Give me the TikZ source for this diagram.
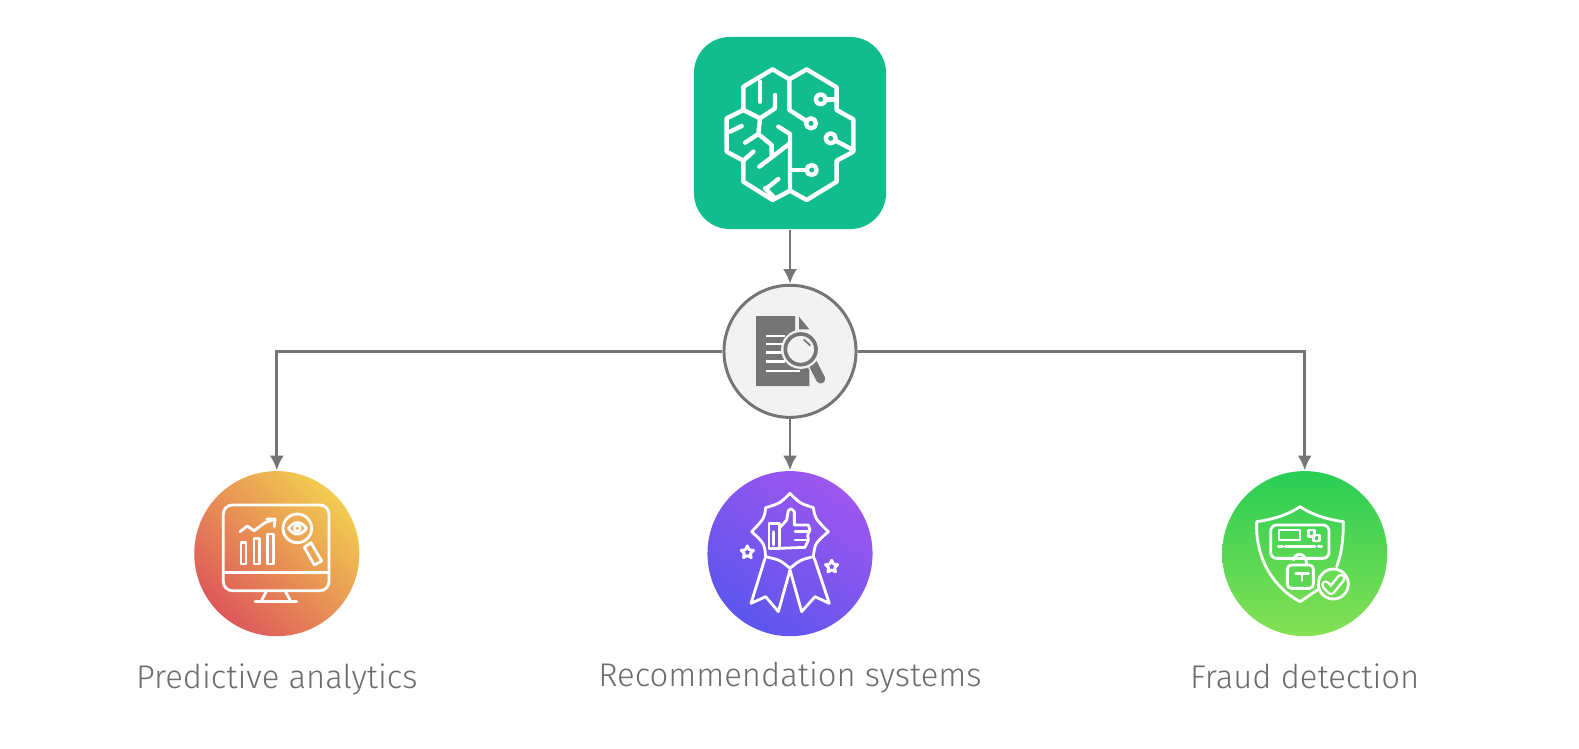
\documentclass[tikz,border=0pt]{standalone}
\usepackage{fontspec}
\setmainfont{Fira Sans}[UprightFont=* Light]
\usepackage{xcolor}
\usepackage{tikz}
\usetikzlibrary{positioning, shapes.geometric, arrows.meta}
\definecolor{brainteal}{RGB}{17, 188, 142}
\definecolor{linegray}{RGB}{117, 117, 117}
\definecolor{hubfill}{RGB}{242, 242, 242}
\definecolor{labelgray}{RGB}{108, 108, 108}

\begin{document}
\begin{tikzpicture}[x=0.01cm, y=-0.01cm, >={Latex[length=4.2pt, width=4pt]}]
    \tikzstyle{brainbox} = [rectangle, fill=brainteal, rounded corners=0.36cm, minimum size=1.92cm, inner sep=0pt]
    \tikzstyle{hub} = [circle, draw=linegray, fill=hubfill, line width=0.85pt, minimum size=1.32cm, inner sep=0pt]
    \tikzstyle{topic} = [circle, minimum size=1.65cm, inner sep=0pt]
    \tikzstyle{caption} = [text=labelgray, font=\fontsize{9.33}{11}\selectfont, inner sep=0pt]
    \tikzstyle{link} = [->, draw=linegray, line width=0.8pt]
    \tikzstyle{iconline} = [draw=white, line width=0.8pt, line join=round, line cap=round]
    \tikzstyle{brainline} = [draw=white, line width=1.25pt, line join=round, line cap=round]
    \tikzstyle{zoomed} = [scale=1/3]

    \useasboundingbox (0,0) rectangle (1579,748);

    \node[brainbox] (brain) at (790,133) {};
    \node[hub, below=0.54cm of brain] (hub) {};
    \node[topic, below=0.515cm of hub, bottom color={rgb,255:red,92;green,86;blue,238}, top color={rgb,255:red,158;green,86;blue,238}, shading angle=-35] (reco) {};
    \node[topic, left=3.465cm of reco, bottom color={rgb,255:red,222;green,88;blue,90}, middle color={rgb,255:red,236;green,165;blue,84}, top color={rgb,255:red,242;green,204;blue,80}, shading angle=-45] (predict) {};
    \node[topic, right=3.48cm of reco, bottom color={rgb,255:red,134;green,224;blue,84}, top color={rgb,255:red,40;green,206;blue,84}] (fraud) {};

    \node[caption, below=0.26cm of predict] (predictlabel) {Predictive analytics};
    \node[caption, below=0.24cm of reco] (recolabel) {Recommendation systems};
    \node[caption, below=0.26cm of fraud] (fraudlabel) {Fraud detection};

    \draw[link] (brain) -- (hub);
    \draw[link] (hub) -- (reco);
    \draw[link] (hub.west) -| (predict.north);
    \draw[link] (hub.east) -| (fraud.north);

    % brain
    \begin{scope}[shift={(680,30)}, zoomed, brainline]
        \draw (328,148) -- (278,118) -- (190,170) -- (190,240) -- (140,265) -- (140,365) -- (190,392) -- (190,455) -- (278,510) -- (330,482);
        \draw (328,148) -- (380,118) -- (470,172) -- (470,240) -- (520,268) -- (520,365) -- (470,392) -- (470,455) -- (380,510) -- (330,482);
        \draw (328,148) -- (328,240) -- (378,272);
        \draw (393,280) circle (15);
        \draw (295,290) -- (330,312) -- (330,482);
        \draw (330,420) -- (380,420);
        \draw (395,420) circle (15);
        \draw (422,208) circle (15);
        \draw (437,208) -- (470,208);
        \draw (452,325) circle (15);
        \draw (466,332) -- (520,360);
        \draw (238,410) -- (330,340);
        \draw (240,155) -- (240,215);
        \draw (190,240) -- (240,265) -- (285,235) -- (285,195);
        \draw (240,265) -- (235,312);
        \draw (150,305) -- (185,288);
        \draw (195,338) -- (235,312) -- (275,345) -- (275,375);
        \draw (190,392) -- (220,365);
        \draw (260,475) -- (295,447);
        \draw (255,475) -- (285,505);
    \end{scope}

    % document with lens
    \begin{scope}[shift={(700,270)}, zoomed]
        \fill[linegray] (168,138) -- (285,138) -- (285,230) -- (328,300) -- (328,348) -- (168,348) -- cycle;
        \fill[linegray] (297,140) -- (328,178) -- (297,178) -- cycle;
        \foreach \ya/\xa in {198/255, 222/245, 248/245, 275/255, 303/300}
            \draw[white, line width=0.75pt] (197,\ya) -- (\xa,\ya);
        \draw[linegray, line width=2.6pt, line cap=round] (338,280) -- (362,327);
        \draw[hubfill, line width=0.5pt, fill=hubfill] (302,238) circle (56);
        \draw[linegray, line width=1.05pt, fill=hubfill] (302,238) circle (46);
        \draw[linegray, line width=0.5pt, line cap=round] (312,209) -- (330,226);
    \end{scope}

    % monitor
    \begin{scope}[shift={(185,460)}, zoomed, iconline]
        \draw[rounded corners=0.09cm] (115,135) rectangle (432,392);
        \draw (115,338) -- (432,338);
        \draw (245,392) -- (228,425);
        \draw (300,392) -- (318,425);
        \draw (210,425) -- (335,425);
        \draw (168,248) rectangle (183,312);
        \draw (207,235) rectangle (224,312);
        \draw (248,222) rectangle (266,312);
        \draw (165,215) -- (187,198) -- (207,212) -- (240,188) -- (268,178);
        \draw (245,177) -- (270,177) -- (268,200);
        \draw (337,205) circle (43);
        \draw (358,262) -- (378,248) -- (410,303) -- (388,315) -- cycle;
        \draw (310,205) .. controls (328,182) and (346,182) .. (365,205) .. controls (346,228) and (328,228) .. cycle;
        \draw (337,205) circle (9);
    \end{scope}

    % rosette
    \begin{scope}[shift={(695,460)}, zoomed, iconline]
        \draw (285,100) .. controls (315,130) .. (355,143) .. controls (360,175) .. (400,215) .. controls (360,250) .. (355,290) .. controls (315,300) .. (285,325) .. controls (255,300) .. (212,290) .. controls (208,250) .. (170,215) .. controls (208,175) .. (212,143) .. controls (255,130) .. cycle;
        \draw (222,190) rectangle (253,265);
        \draw (235,215) -- (235,255);
        \draw (253,205) -- (275,180) -- (280,152) .. controls (288,145) .. (298,155) -- (298,195) -- (340,195) -- (345,210) -- (338,225) -- (340,240) -- (330,262) -- (253,265);
        \draw (300,215) -- (340,215);
        \draw (300,240) -- (335,240);
        \draw (210,295) -- (168,430) -- (212,410) -- (250,455) -- (285,330);
        \draw (285,330) -- (320,455) -- (360,410) -- (403,430) -- (358,295);
        \node[star, star points=5, star point ratio=2, draw=white, line width=0.8pt, minimum size=0.13cm, inner sep=0pt] (starleft) at (157,277) {};
        \node[star, star points=5, star point ratio=2, draw=white, line width=0.8pt, minimum size=0.13cm, inner sep=0pt] (starright) at (410,320) {};
    \end{scope}

    % shield
    \begin{scope}[shift={(1205,460)}, zoomed, iconline]
        \draw (395,320) .. controls (410,280) and (415,240) .. (415,185) .. controls (380,180) and (330,170) .. (285,140) .. controls (240,170) and (190,180) .. (155,185) .. controls (150,300) and (210,385) .. (285,425) -- (345,385);
        \draw[rounded corners=0.06cm] (197,195) rectangle (372,295);
        \draw (222,210) rectangle (285,240);
        \draw (310,210) rectangle (328,230);
        \draw (325,225) rectangle (343,243);
        \draw (220,260) -- (232,260);
        \draw (240,260) -- (330,260);
        \draw (340,260) -- (350,260);
        \draw[rounded corners=0.04cm, fill={rgb,255:red,92;green,214;blue,84}] (247,315) rectangle (325,385);
        \draw (265,300) .. controls (270,275) and (305,275) .. (305,315);
        \draw (272,340) -- (310,340);
        \draw (291,340) -- (291,362);
        \draw[fill={rgb,255:red,108;green,218;blue,84}] (385,372) circle (45);
        \draw[line width=2.6pt] (362,375) -- (378,392) -- (408,355);
        \draw[draw={rgb,255:red,108;green,218;blue,84}, line width=1.2pt] (362,375) -- (378,392) -- (408,355);
    \end{scope}
\end{tikzpicture}
\end{document}
